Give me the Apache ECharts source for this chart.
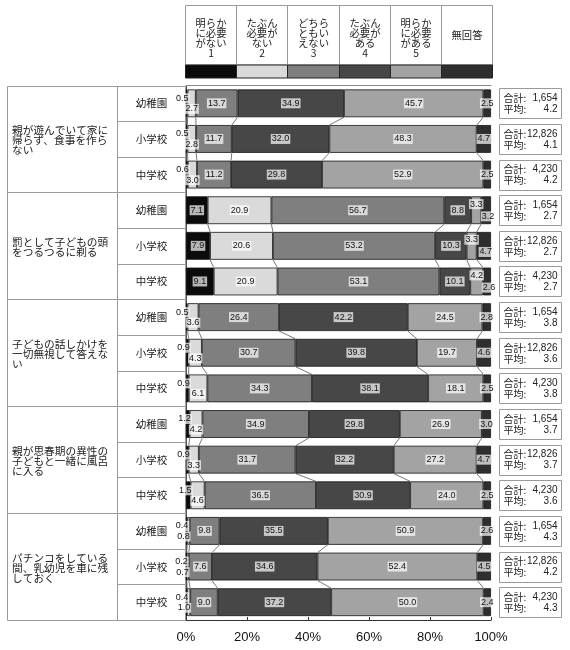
<!DOCTYPE html>
<html><head><meta charset="utf-8">
<script src="https://cdn.jsdelivr.net/npm/echarts@6/dist/echarts.min.js"></script>
<style>html,body{margin:0;padding:0;background:#fff}#c{width:570px;height:650px}</style>
</head><body><div id="c"></div><script>
// ---- data ----
const groupLabels = [
  '親が遊んでいて家に\n帰らず、食事を作ら\nない',
  '罰として子どもの頭\nをつるつるに剃る',
  '子どもの話しかけを\n一切無視して答えな\nい',
  '親が思春期の異性の\n子どもと一緒に風呂\nに入る',
  'パチンコをしている\n間、乳幼児を車に残\nしておく'
];
const schools = ['幼稚園', '小学校', '中学校'];
const answerLabels = [
  '明らか\nに必要\nがない\n1', 'たぶん\n必要が\nない\n2', 'どちら\nともい\nえない\n3',
  'たぶん\n必要が\nある\n4', '明らか\nに必要\nがある\n5', '無回答'
];
const xTickLabels = ['0%', '20%', '40%', '60%', '80%', '100%'];
// one value per row (5 items x 3 schools)
const ans1 = [0.5, 0.5, 0.6, 7.1, 7.9, 9.1, 0.5, 0.9, 0.9, 1.2, 0.9, 1.5, 0.4, 0.2, 0.4];
const ans2 = [2.7, 2.8, 3.0, 20.9, 20.6, 20.9, 3.6, 4.3, 6.1, 4.2, 3.3, 4.6, 0.8, 0.7, 1.0];
const ans3 = [13.7, 11.7, 11.2, 56.7, 53.2, 53.1, 26.4, 30.7, 34.3, 34.9, 31.7, 36.5, 9.8, 7.6, 9.0];
const ans4 = [34.9, 32.0, 29.8, 8.8, 10.3, 10.1, 42.2, 39.8, 38.1, 29.8, 32.2, 30.9, 35.5, 34.6, 37.2];
const ans5 = [45.7, 48.3, 52.9, 3.3, 3.3, 4.2, 24.5, 19.7, 18.1, 26.9, 27.2, 24.0, 50.9, 52.4, 50.0];
const noAnswer = [2.5, 4.7, 2.5, 3.2, 4.7, 2.6, 2.8, 4.6, 2.5, 3.0, 4.7, 2.5, 2.6, 4.5, 2.4];
const totals = ['1,654', '12,826', '4,230'];
const averages = [4.2, 4.1, 4.2, 2.7, 2.7, 2.7, 3.8, 3.6, 3.8, 3.7, 3.7, 3.6, 4.3, 4.2, 4.3];

// ---- style / layout ----
const segs = [ans1, ans2, ans3, ans4, ans5, noAnswer];
const COLORS = ['#0b0b0b', '#dadada', '#7f7f7f', '#474747', '#a3a3a3', '#2e2e2e'];
const CJK = '"Noto Sans CJK JP", sans-serif';
const LAT = '"Liberation Sans", Arial, sans-serif';
const GRID = { left: 186, right: 79, top: 85.5, bottom: 30 };
const BAR_RATIO = 0.78;
const LINE = '#9a9a9a';

const rowKeys = [];
groupLabels.forEach((g, gi) => schools.forEach(s => rowKeys.push(gi + '-' + s)));

function labelFor(k, row) {
  const v = segs[k][row];
  if (k === 0 && v < 3) return { position: ['100%', '32%'], align: 'right', verticalAlign: 'middle', offset: [2, 0] };
  if (k === 1 && ans1[row] < 3) {
    if (v < 2) return { position: ['100%', '70%'], align: 'right', verticalAlign: 'middle', offset: [1, 0] };
    return { position: ['50%', '70%'], align: 'center', verticalAlign: 'middle' };
  }
  if (k === 4 && v < 5) return { position: ['50%', '28%'], align: 'center', verticalAlign: 'middle' };
  if (k === 5 && ans5[row] < 5) return { position: ['50%', '72%'], align: 'center', verticalAlign: 'middle', offset: [2, 0] };
  return { position: 'inside' };
}

function cumAt(row, k) { let s = 0; for (let j = 0; j < k; j++) s += segs[j][row]; return s; }

const barSeries = segs.map((arr, k) => ({
  type: 'bar', name: answerLabels[k], stack: 'total', barWidth: (BAR_RATIO * 100) + '%',
  z: 3,
  itemStyle: { color: COLORS[k], borderColor: '#151515', borderWidth: 0.8 },
  label: {
    show: true, fontSize: 9, fontFamily: LAT, color: '#111',
    backgroundColor: 'rgba(255,255,255,0.7)', padding: [1, 1, 0, 1],
    formatter: p => Number(p.value).toFixed(1)
  },
  data: arr.map((v, row) => ({ value: v, label: labelFor(k, row) }))
}));

const tableSeries = {
  type: 'custom', z: 1, silent: true,
  encode: { x: 0, y: 1 },
  data: rowKeys.map((_, r) => [0, r]),
  renderItem(params, api) {
    const row = api.value(1);
    const c = api.coord([0, row]);
    const band = api.size([0, 1])[1];
    const top = Math.round(c[1] - band / 2) + 0.5;
    const bot = Math.round(c[1] + band / 2) + 0.5;
    const ch = [];
    ch.push({ type: 'rect', shape: { x: 117.5, y: top, width: 68, height: bot - top },
      style: { fill: '#fff', stroke: LINE, lineWidth: 1 } });
    ch.push({ type: 'text', style: { text: schools[row % 3], x: 151.5, y: c[1], align: 'center', verticalAlign: 'middle',
      font: '10.5px ' + CJK, fill: '#222' } });
    if (row % 3 === 0) {
      const gb = Math.round(c[1] + band * 2.5) + 0.5;
      ch.push({ type: 'rect', shape: { x: 7.5, y: top, width: 110, height: gb - top },
        style: { fill: '#fff', stroke: LINE, lineWidth: 1 } });
      ch.push({ type: 'text', style: { text: groupLabels[row / 3], x: 12, y: (top + gb) / 2 + 0.5,
        align: 'left', verticalAlign: 'middle', font: '10.7px ' + CJK, lineHeight: 10, fill: '#222' } });
    }
    return { type: 'group', children: ch };
  }
};

const connectorSeries = {
  type: 'custom', z: 2, silent: true,
  encode: { x: 0, y: 1 },
  data: rowKeys.map((_, r) => [0, r]).filter(d => d[1] % 3 !== 2),
  renderItem(params, api) {
    const row = api.value(1);
    const band = api.size([0, 1])[1];
    const half = band * BAR_RATIO / 2;
    const ch = [];
    for (let k = 1; k <= 5; k++) {
      const a = api.coord([cumAt(row, k), row]);
      const b = api.coord([cumAt(row + 1, k), row + 1]);
      ch.push({ type: 'line', shape: { x1: a[0], y1: a[1] + half, x2: b[0], y2: b[1] - half },
        style: { stroke: '#555', lineWidth: 0.8 } });
    }
    return { type: 'group', children: ch };
  }
};

const infoSeries = {
  type: 'custom', z: 1, silent: true,
  encode: { x: 0, y: 1 },
  data: rowKeys.map((_, r) => [100, r]),
  renderItem(params, api) {
    const row = api.value(1);
    const c = api.coord([100, row]);
    const x0 = Math.round(c[0]) + 8.5;
    const y0 = Math.round(c[1]) - 14.5;
    const f = '10px ' + CJK;
    const fn = '10px ' + LAT;
    return { type: 'group', children: [
      { type: 'rect', shape: { x: x0, y: y0, width: 62, height: 30 }, style: { fill: '#fff', stroke: LINE, lineWidth: 1 } },
      { type: 'text', style: { text: '合計:', x: x0 + 4, y: c[1] - 5, verticalAlign: 'middle', font: f, fill: '#222' } },
      { type: 'text', style: { text: totals[row % 3], x: x0 + 58, y: c[1] - 5, align: 'right', verticalAlign: 'middle', font: fn, fill: '#222' } },
      { type: 'text', style: { text: '平均:', x: x0 + 4, y: c[1] + 6, verticalAlign: 'middle', font: f, fill: '#222' } },
      { type: 'text', style: { text: averages[row].toFixed(1), x: x0 + 58, y: c[1] + 6, align: 'right', verticalAlign: 'middle', font: fn, fill: '#222' } }
    ] };
  }
};

// legend header (decoration)
const HL = 185, HR = 492, colW = (HR - HL) / 6;
const graphic = [];
answerLabels.forEach((t, i) => {
  const x = Math.round(HL + i * colW) + 0.5;
  const w = Math.round(HL + (i + 1) * colW) - Math.round(HL + i * colW);
  graphic.push({ type: 'rect', shape: { x, y: 5.5, width: w, height: 59.5 }, style: { fill: '#fff', stroke: LINE, lineWidth: 1 } });
  graphic.push({ type: 'rect', shape: { x, y: 65, width: w, height: 13 }, style: { fill: COLORS[i], stroke: '#222', lineWidth: 1 } });
  const last = i === 5;
  graphic.push({ type: 'text', style: { text: t, x: x + w / 2, y: last ? 35 : 58,
    align: 'center', verticalAlign: last ? 'middle' : 'bottom', font: '10.3px ' + CJK, lineHeight: 10, fill: '#222' } });
});

const chart = echarts.init(document.getElementById('c'), null, { renderer: 'canvas' });
chart.setOption({
  animation: false,
  backgroundColor: '#fff',
  grid: GRID,
  graphic,
  xAxis: [{
    type: 'value', min: 0, max: 100, interval: 20,
    axisLine: { show: true, lineStyle: { color: '#333', width: 1 } },
    axisTick: { show: true, inside: true, length: 3, lineStyle: { color: '#333' } },
    splitLine: { show: false },
    axisLabel: { fontSize: 13, fontFamily: LAT, color: '#111', margin: 11,
      formatter: v => xTickLabels[Math.round(v / 20)] }
  }, {
    type: 'value', min: 0, max: 100, position: 'top',
    axisLine: { show: true, lineStyle: { color: '#888', width: 1 } },
    axisTick: { show: false }, axisLabel: { show: false }, splitLine: { show: false }
  }],
  yAxis: {
    type: 'category', data: rowKeys, inverse: true,
    axisLine: { show: true, lineStyle: { color: '#555', width: 1 } },
    axisTick: { show: false }, axisLabel: { show: false }, splitLine: { show: false }
  },
  series: [tableSeries, connectorSeries, ...barSeries, infoSeries]
});
</script></body></html>
